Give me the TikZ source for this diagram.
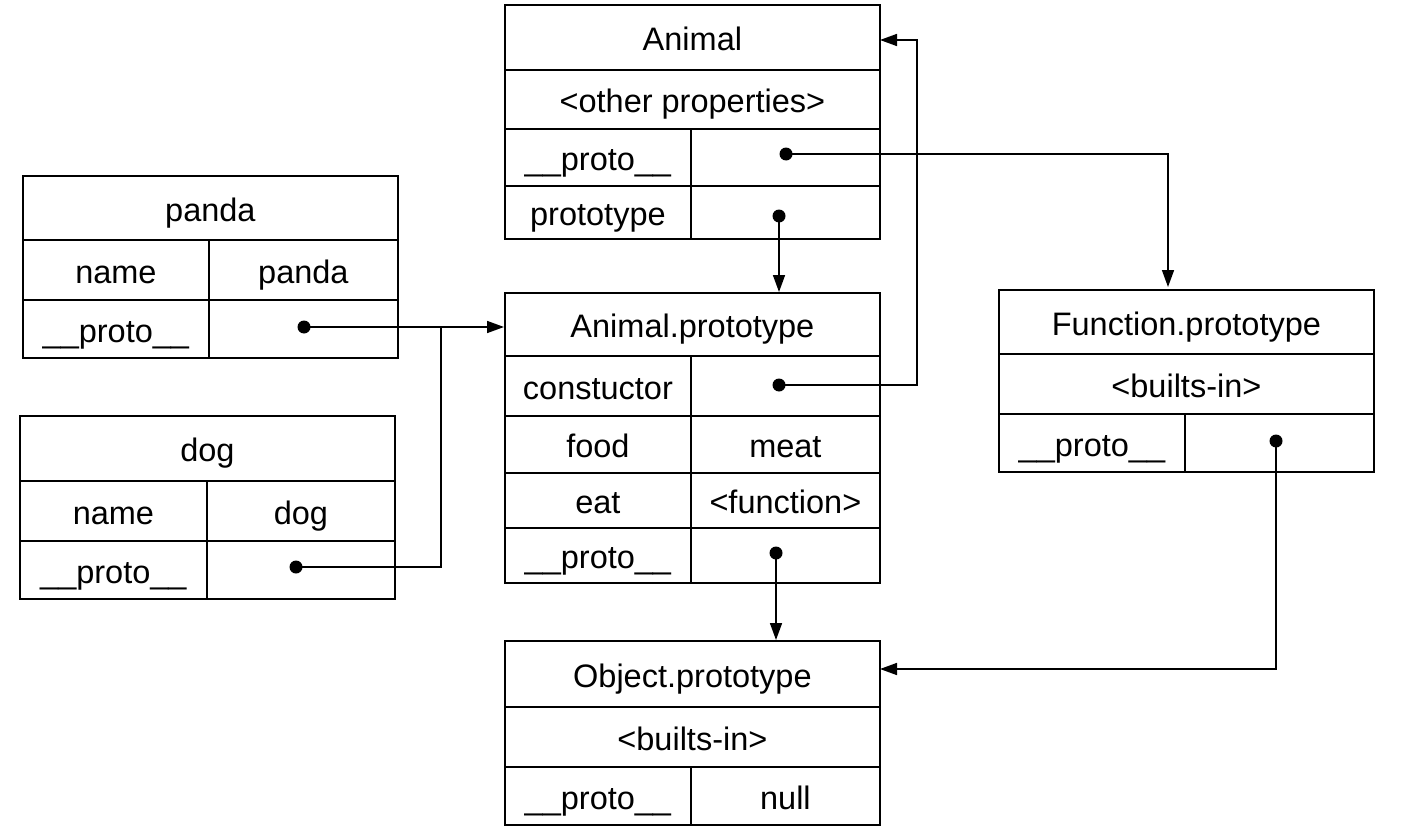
\documentclass[tikz,border=0pt]{standalone}
\usepackage{fontspec}
\setmainfont{Liberation Sans}
\usetikzlibrary{arrows.meta}
\begin{document}
\begin{tikzpicture}[x=1pt,y=-1pt,
  cell/.style={draw,line width=1.8pt,rectangle,anchor=north west,inner sep=0pt,
    text height=27.6pt,text depth=1pt,
    font=\fontsize{32.5}{38}\selectfont},
  dot/.style={circle,fill=black,inner sep=0pt,minimum size=13pt},
  arr/.style={line width=1.6pt,-{Triangle[length=17pt,width=12pt]}},
  ln/.style={line width=1.6pt}]
\useasboundingbox (0,0) rectangle (1402,832);
% Animal
\node[cell,minimum width=375pt,minimum height=65pt] (a1) at (504,4) {Animal};
\node[cell,minimum width=375pt,minimum height=59pt] (a2) at (504,69) {<other properties>};
\node[cell,minimum width=186pt,minimum height=57pt] (a3l) at (504,128) {\_\_proto\_\_};
\node[cell,minimum width=189pt,minimum height=57pt] (a3r) at (690,128) {};
\node[cell,minimum width=186pt,minimum height=53pt] (a4l) at (504,185) {prototype};
\node[cell,minimum width=189pt,minimum height=53pt] (a4r) at (690,185) {};
% panda
\node[cell,minimum width=375pt,minimum height=64pt] (p1) at (22,175) {panda};
\node[cell,minimum width=186pt,minimum height=60pt] (p2l) at (22,239) {name};
\node[cell,minimum width=189pt,minimum height=60pt] (p2r) at (208,239) {panda};
\node[cell,minimum width=186pt,minimum height=58pt] (p3l) at (22,299) {\_\_proto\_\_};
\node[cell,minimum width=189pt,minimum height=58pt] (p3r) at (208,299) {};
% dog
\node[cell,minimum width=375pt,minimum height=65pt] (g1) at (19,415) {dog};
\node[cell,minimum width=187pt,minimum height=60pt] (g2l) at (19,480) {name};
\node[cell,minimum width=188pt,minimum height=60pt] (g2r) at (206,480) {dog};
\node[cell,minimum width=187pt,minimum height=58pt] (g3l) at (19,540) {\_\_proto\_\_};
\node[cell,minimum width=188pt,minimum height=58pt] (g3r) at (206,540) {};
% Animal.prototype
\node[cell,minimum width=375pt,minimum height=63pt] (b1) at (504,292) {Animal.prototype};
\node[cell,minimum width=186pt,minimum height=60pt] (b2l) at (504,355) {constuctor};
\node[cell,minimum width=189pt,minimum height=60pt] (b2r) at (690,355) {};
\node[cell,minimum width=186pt,minimum height=57pt] (b3l) at (504,415) {food};
\node[cell,minimum width=189pt,minimum height=57pt] (b3r) at (690,415) {meat};
\node[cell,minimum width=186pt,minimum height=55pt] (b4l) at (504,472) {eat};
\node[cell,minimum width=189pt,minimum height=55pt] (b4r) at (690,472) {<function>};
\node[cell,minimum width=186pt,minimum height=55pt] (b5l) at (504,527) {\_\_proto\_\_};
\node[cell,minimum width=189pt,minimum height=55pt] (b5r) at (690,527) {};
% Function.prototype
\node[cell,minimum width=375pt,minimum height=64pt] (f1) at (998,289) {Function.prototype};
\node[cell,minimum width=375pt,minimum height=60pt] (f2) at (998,353) {<builts-in>};
\node[cell,minimum width=186pt,minimum height=58pt] (f3l) at (998,413) {\_\_proto\_\_};
\node[cell,minimum width=189pt,minimum height=58pt] (f3r) at (1184,413) {};
% Object.prototype
\node[cell,minimum width=375pt,minimum height=66pt] (o1) at (504,640) {Object.prototype};
\node[cell,minimum width=375pt,minimum height=60pt] (o2) at (504,706) {<builts-in>};
\node[cell,minimum width=186pt,minimum height=58pt] (o3l) at (504,766) {\_\_proto\_\_};
\node[cell,minimum width=189pt,minimum height=58pt] (o3r) at (690,766) {null};
% dots
\node[dot] (da) at (786,154) {};
\node[dot] (dp) at (779,216) {};
\node[dot] (dpanda) at (304,327) {};
\node[dot] (ddog) at (296,567) {};
\node[dot] (dc) at (779,385) {};
\node[dot] (dap) at (776,553) {};
\node[dot] (df) at (1276,441) {};
% coordinates
\coordinate (join) at (441,327);
\coordinate (finto) at (1168,287);
\coordinate (cturn) at (917,385);
\coordinate (ainto) at (880,40);
\coordinate (ointo) at (880,669);
\coordinate (fturn) at (1276,669);
% connectors
\draw[arr] (dpanda.center) -- (dpanda.center -| b1.west);
\draw[ln] (ddog.center) -| (join);
\draw[arr] (da.center) -| (finto);
\draw[arr] (dp.center) -- (dp.center |- b1.north);
\draw[arr] (dc.center) -- (cturn) |- (ainto);
\draw[arr] (dap.center) -- (dap.center |- o1.north);
\draw[arr] (df.center) -- (fturn) -- (ointo);
\end{tikzpicture}
\end{document}
